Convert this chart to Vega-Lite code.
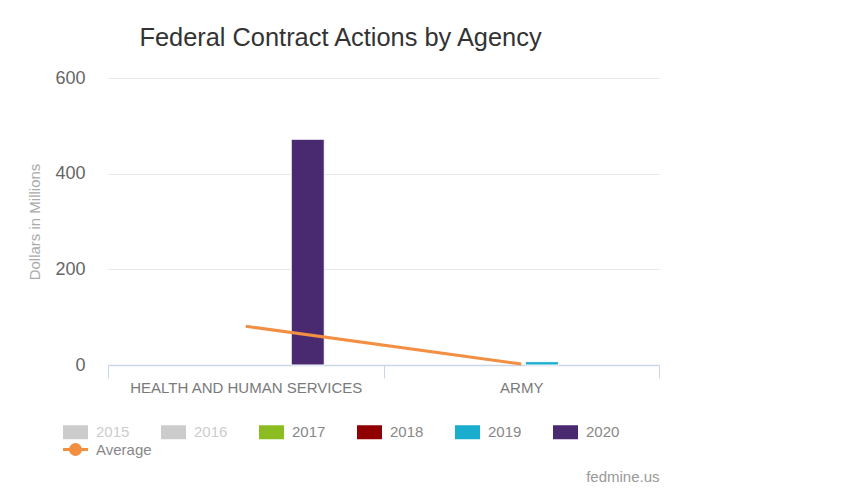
{
  "$schema": "https://vega.github.io/schema/vega-lite/v6.json",
  "width": 551,
  "height": 287,
  "autosize": {"type": "none"},
  "padding": {"left": 108, "top": 78, "right": 207, "bottom": 136},
  "background": "#ffffff",
  "config": {
    "view": {"stroke": null},
    "font": "Liberation Sans"
  },
  "title": {
    "text": "Federal Contract Actions by Agency",
    "font": "Liberation Sans",
    "fontSize": 25.4,
    "fontWeight": "normal",
    "color": "#333333",
    "anchor": "middle",
    "frame": "group",
    "baseline": "alphabetic",
    "offset": -2,
    "dx": -43
  },
  "datasets": {
    "bars": [
      {"agency": "HEALTH AND HUMAN SERVICES", "year": "2020", "value": 472},
      {"agency": "ARMY", "year": "2019", "value": 7}
    ],
    "avg": [
      {"agency": "HEALTH AND HUMAN SERVICES", "series": "Average", "value": 81},
      {"agency": "ARMY", "series": "Average", "value": 2}
    ]
  },
  "layer": [
    {
      "data": {"name": "bars"},
      "mark": {"type": "bar", "stroke": "#ffffff", "strokeWidth": 1},
      "encoding": {
        "x": {
          "field": "agency",
          "type": "nominal",
          "sort": ["HEALTH AND HUMAN SERVICES", "ARMY"],
          "scale": {"domain": ["HEALTH AND HUMAN SERVICES", "ARMY"], "paddingInner": 0, "paddingOuter": 0},
          "axis": {
            "title": "fedmine.us",
            "titleAnchor": "end",
            "titleFont": "Liberation Sans",
            "titleFontSize": 15,
            "titleFontWeight": "normal",
            "titleColor": "#999999",
            "titlePadding": 74,
            "labelAngle": 0,
            "labelLimit": 0,
            "labelFont": "Liberation Sans",
            "labelFontSize": 15,
            "labelColor": "#7a7a7a",
            "labelPadding": 2,
            "tickBand": "extent",
            "tickSize": 13,
            "tickColor": "#ccd6eb",
            "domainColor": "#ccd6eb",
            "domainWidth": 1.5,
            "grid": false
          }
        },
        "xOffset": {
          "field": "year",
          "type": "nominal",
          "scale": {"domain": ["2017", "2018", "2019", "2020"], "range": [55.1, 220.4], "paddingInner": 0.2, "paddingOuter": 0.1}
        },
        "y": {
          "field": "value",
          "type": "quantitative",
          "scale": {"domain": [0, 600], "nice": false},
          "axis": {
            "title": "Dollars in Millions",
            "titleFont": "Liberation Sans",
            "titleFontSize": 15,
            "titleFontWeight": "normal",
            "titleColor": "#aaaaaa",
            "titlePadding": 12,
            "values": [0, 200, 400, 600],
            "labelFont": "Liberation Sans",
            "labelFontSize": 18,
            "labelColor": "#666666",
            "labelPadding": 23,
            "ticks": false,
            "domain": false,
            "grid": true,
            "gridColor": "#e6e6e6"
          }
        },
        "color": {
          "field": "year",
          "type": "nominal",
          "scale": {
            "domain": ["2015", "2016", "2017", "2018", "2019", "2020", "Average"],
            "range": ["#cccccc", "#cccccc", "#8bbc21", "#910000", "#1aadce", "#492970", "#f28f43"]
          },
          "legend": {
            "title": null,
            "orient": "none",
            "legendX": -40,
            "legendY": 345,
            "direction": "horizontal",
            "columns": 6,
            "gridAlign": "all",
            "columnPadding": 9,
            "rowPadding": -4,
            "padding": 0,
            "labelOffset": 13,
            "symbolSize": 625,
            "labelFont": "Liberation Sans",
            "labelFontSize": 15,
            "encode": {
              "symbols": {
                "update": {
                  "shape": {"signal": "datum.value === 'Average' ? 'M-1,0L1,0M-0.4,0A0.4,0.4,0,1,1,0.4,0A0.4,0.4,0,1,1,-0.4,0Z' : 'M-1,-0.56L1,-0.56L1,0.56L-1,0.56Z'"},
                  "fill": {"scale": "color", "field": "value"},
                  "stroke": {"scale": "color", "field": "value"},
                  "strokeWidth": {"signal": "datum.value === 'Average' ? 3 : 0"},
                  "opacity": {"value": 1}
                }
              },
              "labels": {
                "update": {
                  "fill": {"signal": "datum.value === '2015' || datum.value === '2016' ? '#cccccc' : '#888888'"}
                }
              }
            }
          }
        }
      }
    },
    {
      "data": {"name": "avg"},
      "mark": {"type": "line", "strokeWidth": 3},
      "encoding": {
        "x": {"field": "agency", "type": "nominal", "sort": ["HEALTH AND HUMAN SERVICES", "ARMY"]},
        "y": {"field": "value", "type": "quantitative"},
        "color": {
          "field": "series",
          "type": "nominal",
          "scale": {
            "domain": ["2015", "2016", "2017", "2018", "2019", "2020", "Average"],
            "range": ["#cccccc", "#cccccc", "#8bbc21", "#910000", "#1aadce", "#492970", "#f28f43"]
          },
          "legend": {
            "title": null,
            "orient": "none",
            "legendX": -40,
            "legendY": 345,
            "direction": "horizontal",
            "columns": 6,
            "gridAlign": "all",
            "columnPadding": 9,
            "rowPadding": -4,
            "padding": 0,
            "labelOffset": 13,
            "symbolSize": 625,
            "labelFont": "Liberation Sans",
            "labelFontSize": 15,
            "encode": {
              "symbols": {
                "update": {
                  "shape": {"signal": "datum.value === 'Average' ? 'M-1,0L1,0M-0.4,0A0.4,0.4,0,1,1,0.4,0A0.4,0.4,0,1,1,-0.4,0Z' : 'M-1,-0.56L1,-0.56L1,0.56L-1,0.56Z'"},
                  "fill": {"scale": "color", "field": "value"},
                  "stroke": {"scale": "color", "field": "value"},
                  "strokeWidth": {"signal": "datum.value === 'Average' ? 3 : 0"},
                  "opacity": {"value": 1}
                }
              },
              "labels": {
                "update": {
                  "fill": {"signal": "datum.value === '2015' || datum.value === '2016' ? '#cccccc' : '#888888'"}
                }
              }
            }
          }
        }
      }
    }
  ]
}
